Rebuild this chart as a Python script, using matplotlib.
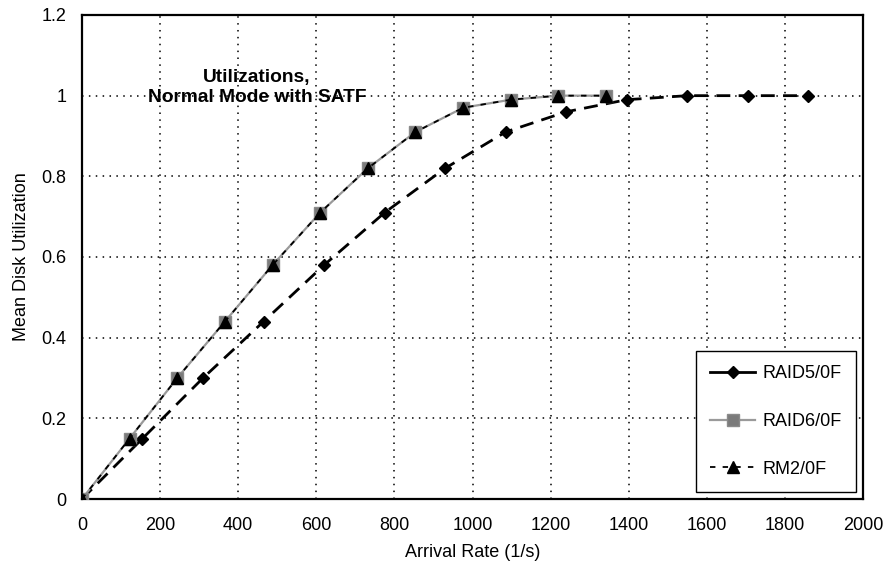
import matplotlib
matplotlib.use("Agg")
import matplotlib.pyplot as plt
from matplotlib.lines import Line2D

# values
rate_raid5 = [0, 155, 310, 465, 620, 775, 930, 1085, 1240, 1395, 1550, 1705, 1860]
util_raid5 = [0, 0.15, 0.30, 0.44, 0.58, 0.71, 0.82, 0.91, 0.96, 0.99, 1.0, 1.0, 1.0]

rate_raid6 = [0, 122, 244, 366, 488, 610, 732, 854, 976, 1098, 1220, 1342]
util_raid6 = [0, 0.15, 0.30, 0.44, 0.58, 0.71, 0.82, 0.91, 0.97, 0.99, 1.0, 1.0]

rate_rm2 = [0, 122, 244, 366, 488, 610, 732, 854, 976, 1098, 1220, 1342]
util_rm2 = [0, 0.15, 0.30, 0.44, 0.58, 0.71, 0.82, 0.91, 0.97, 0.99, 1.0, 1.0]

x_ticks = [0, 200, 400, 600, 800, 1000, 1200, 1400, 1600, 1800, 2000]
y_ticks = [0, 0.2, 0.4, 0.6, 0.8, 1.0, 1.2]
y_tick_labels = ['0', '0.2', '0.4', '0.6', '0.8', '1', '1.2']

plt.rcParams['font.family'] = ['Liberation Sans', 'DejaVu Sans']
plt.rcParams['font.size'] = 13

fig = plt.figure(figsize=(8.89, 5.72), dpi=100)
ax = fig.add_axes([0.0922, 0.1276, 0.8786, 0.8462])

# RAID5: black diamonds, long dashes in the plot area
ax.plot(rate_raid5, util_raid5, color='black', lw=2, linestyle=(0, (5, 3)),
        marker='D', markersize=6.5, zorder=3)
# RAID6: gray line with gray squares
ax.plot(rate_raid6, util_raid6, color='#9a9a9a', lw=1.6,
        marker='s', markersize=8, markerfacecolor='#7a7a7a', markeredgecolor='#8a8a8a', zorder=3)
# RM2: black short dashes with triangles, on top of RAID6
ax.plot(rate_rm2, util_rm2, color='black', lw=1.3, linestyle=(0, (3, 4)),
        marker='^', markersize=8.5, zorder=4)

ax.set_xlim(0, 2000)
ax.set_ylim(0, 1.2)
ax.set_xticks(x_ticks)
ax.set_yticks(y_ticks)
ax.set_yticklabels(y_tick_labels)
ax.tick_params(length=0, labelsize=13)
ax.tick_params(axis='x', pad=13)
ax.tick_params(axis='y', pad=11)

ax.grid(True, color='black', linestyle=(0, (1, 3.5)), lw=1.1)
for s in ax.spines.values():
    s.set_linewidth(1.6)

ax.set_xlabel('Arrival Rate (1/s)', fontsize=13, labelpad=7)
ax.set_ylabel('Mean Disk Utilization', fontsize=13, labelpad=8)

ax.text(448, 1.02, 'Utilizations,\nNormal Mode with SATF', ha='center', va='center',
        fontsize=13.8, fontweight='bold', linespacing=1.2)

handles = [
    Line2D([], [], color='black', lw=2, marker='D', markersize=6.5),
    Line2D([], [], color='#9a9a9a', lw=1.6, marker='s', markersize=8,
           markerfacecolor='#7a7a7a', markeredgecolor='#8a8a8a'),
    Line2D([], [], color='black', lw=1.3, linestyle=(0, (3, 4)), marker='^', markersize=8.5),
]
leg = ax.legend(handles, ['RAID5/0F', 'RAID6/0F', 'RM2/0F'], loc='lower right',
                bbox_to_anchor=(0.991, 0.0145), borderaxespad=0, fancybox=False,
                framealpha=1, edgecolor='black', fontsize=13, labelspacing=1.7,
                handlelength=2.5, handletextpad=0.4, borderpad=0.8)
leg.get_frame().set_linewidth(1.0)

fig.savefig('out.png', dpi=100)
